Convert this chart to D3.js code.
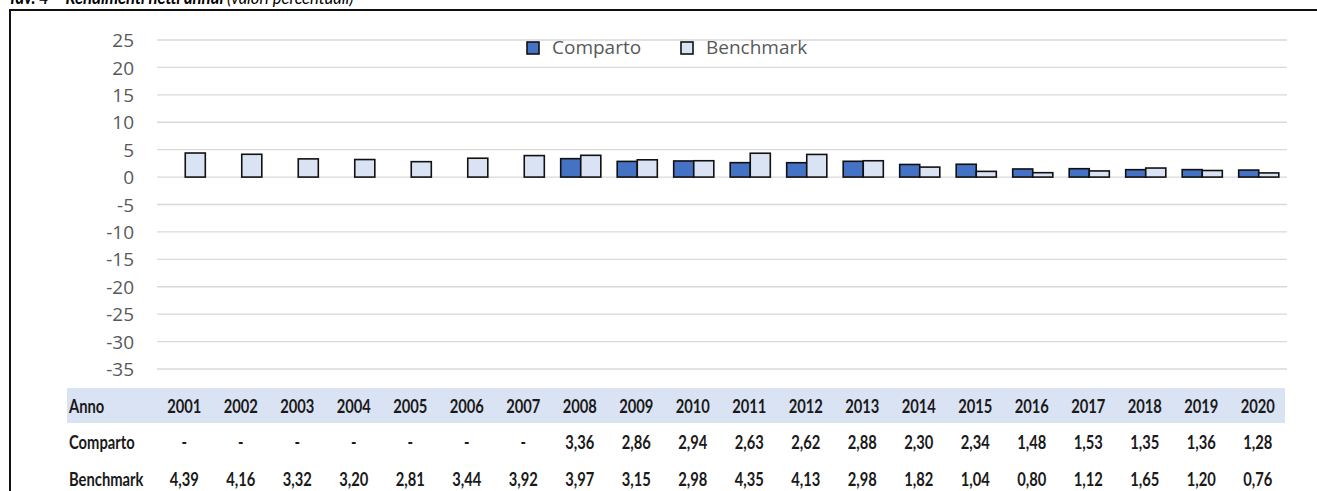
<!DOCTYPE html>
<html>
<head>
<meta charset="utf-8">
<script src="https://cdn.jsdelivr.net/npm/d3@7"></script>
<style>
  body { margin: 0; background: #fff; }
  svg { display: block; }
</style>
</head>
<body>
<svg id="chart"></svg>
<script>
// data
let years = ["2001","2002","2003","2004","2005","2006","2007","2008","2009","2010",
             "2011","2012","2013","2014","2015","2016","2017","2018","2019","2020"];
let comparto = [null,null,null,null,null,null,null,3.36,2.86,2.94,2.63,2.62,2.88,2.30,2.34,1.48,1.53,1.35,1.36,1.28];
let benchmark = [4.39,4.16,3.32,3.20,2.81,3.44,3.92,3.97,3.15,2.98,4.35,4.13,2.98,1.82,1.04,0.80,1.12,1.65,1.20,0.76];
let seriesNames = ["Comparto", "Benchmark"];
let seriesColors = ["#4472C4", "#DAE3F3"];
let yTicks = [25,20,15,10,5,0,-5,-10,-15,-20,-25,-30,-35];

let w = 1317, h = 491;
let margin = { top: 40, right: 30, bottom: 122, left: 157 };

let svg = d3.select("#chart")
    .attr("width", w)
    .attr("height", h);

let narrow = "Lato, 'Noto Sans', sans-serif";
let sans = "'Open Sans', 'Noto Sans', sans-serif";

// title, cut off at the top edge just like the source picture
let title = svg.append("text")
    .attr("transform", "translate(8,4) scale(0.92,1)")
    .style("font-family", narrow)
    .style("font-size", "18px")
    .style("font-style", "italic")
    .attr("fill", "#000");
title.append("tspan").style("font-weight", "bold").text("Tav. 4 \u2013 Rendimenti netti annui ");
title.append("tspan").text("(valori percentuali)");

// frame (top and left edges only are visible)
svg.append("path")
    .attr("d", "M10," + h + "V10H" + w)
    .attr("fill", "none")
    .attr("stroke", "#111")
    .attr("stroke-width", 2);

let xScale = d3.scaleBand()
    .domain(years)
    .range([margin.left, w - margin.right])
    .paddingInner(0.29)
    .paddingOuter(0.145);

let xSub = d3.scaleBand()
    .domain(seriesNames)
    .range([0, xScale.bandwidth()]);

let yScale = d3.scaleLinear()
    .domain([-35, 25])
    .range([369, margin.top]);

// gridlines
svg.append("g")
    .selectAll("line")
    .data(yTicks)
    .enter()
    .append("line")
    .attr("x1", margin.left)
    .attr("x2", w - margin.right)
    .attr("y1", d => yScale(d))
    .attr("y2", d => yScale(d))
    .attr("stroke", "#D9D9D9")
    .attr("stroke-width", 1.3);

// y axis labels, plain hyphen for negatives like the original
let yAxis = d3.axisLeft(yScale)
    .tickValues(yTicks)
    .tickSize(0)
    .tickPadding(23)
    .tickFormat(d => String(d));

let yg = svg.append("g")
    .attr("transform", "translate(" + margin.left + ",0)")
    .call(yAxis);
yg.select(".domain").remove();
yg.selectAll("text")
    .attr("fill", "#595959")
    .attr("dy", "0.35em")
    .style("font-family", sans)
    .style("font-size", "19px");

// bars
let rows = [];
years.forEach(function (y, i) {
    rows.push({ year: y, series: "Comparto", value: comparto[i], color: seriesColors[0] });
    rows.push({ year: y, series: "Benchmark", value: benchmark[i], color: seriesColors[1] });
});

svg.append("g")
    .selectAll("rect")
    .data(rows.filter(d => d.value !== null))
    .enter()
    .append("rect")
    .attr("x", d => xScale(d.year) + xSub(d.series))
    .attr("width", xSub.bandwidth())
    .attr("y", d => yScale(Math.max(0, d.value)))
    .attr("height", d => Math.abs(yScale(d.value) - yScale(0)))
    .attr("fill", d => d.color)
    .attr("stroke", "#111")
    .attr("stroke-width", 1.6);

// legend
let legend = svg.append("g");
let legendX = [527, 681];
seriesNames.forEach(function (name, i) {
    legend.append("rect")
        .attr("x", legendX[i])
        .attr("y", 42)
        .attr("width", 12)
        .attr("height", 12)
        .attr("fill", seriesColors[i])
        .attr("stroke", "#111")
        .attr("stroke-width", 1.6);
    legend.append("text")
        .attr("x", legendX[i] + 25)
        .attr("y", 54)
        .attr("fill", "#595959")
        .style("font-family", sans)
        .style("font-size", "19px")
        .text(name);
});

// data table below the chart
svg.append("rect")
    .attr("x", 67)
    .attr("y", 388)
    .attr("width", 1285 - 67)
    .attr("height", 35)
    .attr("fill", "#DAE3F3");

let fmt = v => v === null ? "-" : v.toFixed(2).replace(".", ",");
let tableRows = [
    { label: "Anno", cells: years, y: 413 },
    { label: "Comparto", cells: comparto.map(fmt), y: 449 },
    { label: "Benchmark", cells: benchmark.map(fmt), y: 486 }
];

let table = svg.append("g")
    .style("font-family", narrow)
    .style("font-size", "18px")
    .style("font-weight", "bold")
    .attr("fill", "#1a1a1a");

let squeeze = 0.82;
tableRows.forEach(function (r) {
    table.append("text")
        .attr("transform", "translate(69," + r.y + ") scale(" + squeeze + ",1)")
        .text(r.label);
    table.selectAll(null)
        .data(r.cells)
        .enter()
        .append("text")
        .attr("transform", (d, i) => "translate(" + (xScale(years[i]) + xScale.bandwidth() / 2 - 1) + "," + r.y + ") scale(" + squeeze + ",1)")
        .attr("text-anchor", "middle")
        .text(d => d);
});
</script>
</body>
</html>
